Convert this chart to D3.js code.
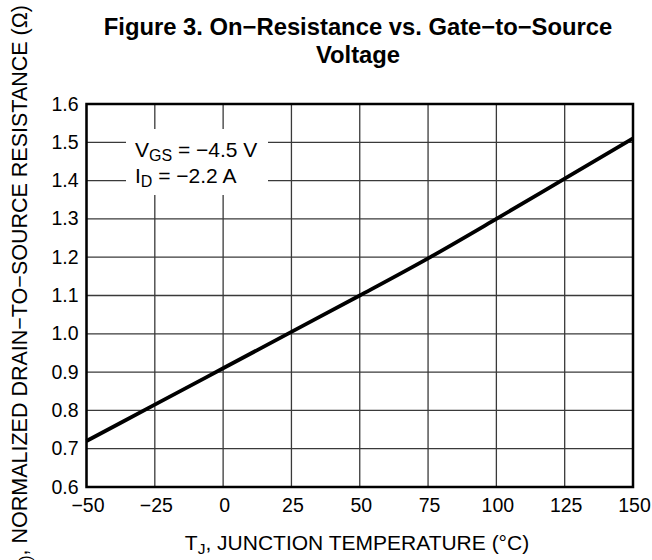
<!DOCTYPE html>
<html>
<head>
<script src="https://cdnjs.cloudflare.com/ajax/libs/d3/7.8.5/d3.min.js"></script>
<style>
  body, html { margin: 0; padding: 0; background: #fff; }
  svg { display: block; font-family: "Liberation Sans", Arial, sans-serif; }
</style>
</head>
<body>
<svg width="652" height="560"></svg>
<script>
// junction temperature (°C) and normalized on-resistance
const tempC = [-50, -25, 0, 25, 50, 75, 100, 125, 150];
const rdsNorm = [0.72, 0.815, 0.91, 1.005, 1.10, 1.197, 1.30, 1.405, 1.51];
const xTicks = [-50, -25, 0, 25, 50, 75, 100, 125, 150];
const yTicks = [0.6, 0.7, 0.8, 0.9, 1.0, 1.1, 1.2, 1.3, 1.4, 1.5, 1.6];

const svg = d3.select("svg");
const plotL = 86.5, plotR = 633, plotT = 104, plotB = 487;

const x = d3.scaleLinear().domain([-50, 150]).range([plotL, plotR]);
const y = d3.scaleLinear().domain([0.6, 1.6]).range([plotB, plotT]);

// grid
svg.append("g").selectAll("line").data(xTicks).join("line")
    .attr("x1", d => x(d)).attr("x2", d => x(d))
    .attr("y1", plotT).attr("y2", plotB)
    .attr("stroke", "#3a3a3a").attr("stroke-width", 1.3);
svg.append("g").selectAll("line").data(yTicks).join("line")
    .attr("x1", plotL).attr("x2", plotR)
    .attr("y1", d => y(d)).attr("y2", d => y(d))
    .attr("stroke", "#3a3a3a").attr("stroke-width", 1.3);

// legend background hides grid
svg.append("rect")
    .attr("x", 126).attr("y", 129).attr("width", 142).attr("height", 66)
    .attr("fill", "#fff");

// frame
svg.append("rect")
    .attr("x", plotL).attr("y", plotT)
    .attr("width", plotR - plotL).attr("height", plotB - plotT)
    .attr("fill", "none").attr("stroke", "#000").attr("stroke-width", 2.5);

// curve
const line = d3.line()
    .x((d, i) => x(tempC[i]))
    .y(d => y(d))
    .curve(d3.curveMonotoneX);
svg.append("path")
    .datum(rdsNorm)
    .attr("d", line)
    .attr("fill", "none")
    .attr("stroke", "#000")
    .attr("stroke-width", 3.8);

// tick labels
svg.append("g").selectAll("text").data(yTicks).join("text")
    .attr("x", plotL - 8).attr("y", d => y(d) + 6.5)
    .attr("text-anchor", "end")
    .attr("font-size", 19.5)
    .text(d => d.toFixed(1));
svg.append("g").selectAll("text").data(xTicks).join("text")
    .attr("x", d => x(d) + 1.5).attr("y", 512)
    .attr("text-anchor", "middle")
    .attr("font-size", 19.5)
    .text(d => d < 0 ? "\u2212" + Math.abs(d) : d);

// legend text
const leg = svg.append("text").attr("x", 135).attr("y", 157).attr("font-size", 21);
leg.append("tspan").text("V");
leg.append("tspan").attr("dy", 4).attr("font-size", 16).text("GS");
leg.append("tspan").attr("dy", -4).text(" = \u22124.5 V");
const leg2 = svg.append("text").attr("x", 135).attr("y", 183).attr("font-size", 21);
leg2.append("tspan").text("I");
leg2.append("tspan").attr("dy", 4).attr("font-size", 16).text("D");
leg2.append("tspan").attr("dy", -4).text(" = \u22122.2 A");

// title
svg.append("text")
    .attr("x", 358).attr("y", 35)
    .attr("text-anchor", "middle")
    .attr("font-size", 23.8).attr("font-weight", "bold")
    .text("Figure 3. On\u2212Resistance vs. Gate\u2212to\u2212Source");
svg.append("text")
    .attr("x", 358).attr("y", 63)
    .attr("text-anchor", "middle")
    .attr("font-size", 23.8).attr("font-weight", "bold")
    .text("Voltage");

// x axis title
const xt = svg.append("text")
    .attr("x", 357).attr("y", 550)
    .attr("text-anchor", "middle")
    .attr("font-size", 21);
xt.append("tspan").text("T");
xt.append("tspan").attr("dy", 4).attr("font-size", 15.5).text("J");
xt.append("tspan").attr("dy", -4).text(", JUNCTION TEMPERATURE (\u00B0C)");

// y axis title (runs off the bottom of the figure)
const yt = svg.append("text")
    .attr("transform", "translate(27,5) rotate(-90)")
    .attr("text-anchor", "end")
    .attr("font-size", 21.5);
yt.append("tspan").text("R");
yt.append("tspan").attr("dy", 4).attr("font-size", 16).text("DS(on)");
yt.append("tspan").attr("dy", -4).text(", NORMALIZED DRAIN\u2212TO\u2212SOURCE RESISTANCE (\u03A9)");
</script>
</body>
</html>
